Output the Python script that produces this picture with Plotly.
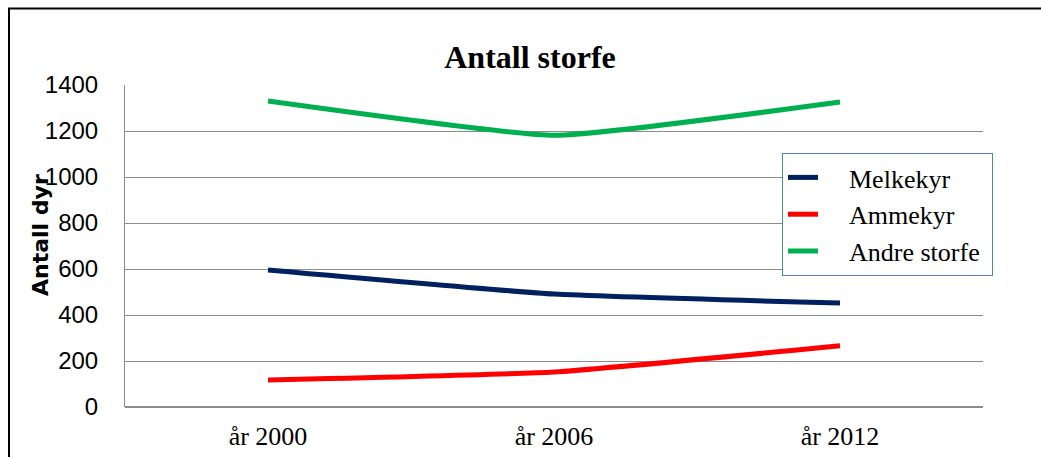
import plotly.graph_objects as go

categories = ["år 2000", "år 2006", "år 2012"]
melkekyr = [596, 491, 452]
ammekyr = [117, 152, 266]
andre_storfe = [1330, 1181, 1326]
series_names = ["Melkekyr", "Ammekyr", "Andre storfe"]
colors = ["#002060", "#FF0000", "#00B050"]

W, H = 1041, 457
L, R, T, B = 125, 58, 85, 50
pw, ph = W - L - R, H - T - B

fig = go.Figure()
for name, vals, col in zip(series_names, [melkekyr, ammekyr, andre_storfe], colors):
    fig.add_trace(go.Scatter(
        x=categories, y=vals, name="\u00a0\u00a0\u00a0\u00a0" + name + "\u00a0", mode="lines",
        line=dict(color=col, width=5, shape="spline", smoothing=0.4),
    ))

def px_x(p):
    return (p - L) / pw

def px_y(p):
    return (H - B - p) / ph

fig.add_shape(type="rect", xref="paper", yref="paper",
              x0=px_x(9), x1=px_x(1060), y0=px_y(470), y1=px_y(8.5),
              line=dict(color="black", width=2), fillcolor="rgba(0,0,0,0)")

fig.add_annotation(text="<b>Antall dyr</b>", xref="paper", yref="paper",
                   x=px_x(40), y=px_y(235), xanchor="center", yanchor="middle",
                   textangle=-90, showarrow=False,
                   font=dict(family="DejaVu Sans", size=22, color="black"))

fig.update_layout(
    width=W, height=H,
    margin=dict(l=L, r=R, t=T, b=B, pad=0),
    paper_bgcolor="white", plot_bgcolor="white",
    title=dict(text="<b>Antall storfe</b>", x=530 / W, xanchor="center",
               y=1 - 57 / H, yanchor="middle",
               font=dict(family="Liberation Serif", size=32, color="black")),
    showlegend=True,
    legend=dict(x=px_x(782), y=px_y(153), xanchor="left", yanchor="top",
                bgcolor="white", bordercolor="#4F81BD", borderwidth=1,
                font=dict(family="Liberation Serif", size=26, color="black"),
                tracegroupgap=0),
    xaxis=dict(showgrid=False, showline=False, ticks="", zeroline=False,
               ticklabelstandoff=11, automargin=False,
               tickfont=dict(family="Liberation Serif", size=26, color="black"),
               range=[-0.5, 2.5], fixedrange=True),
    yaxis=dict(range=[0, 1400], dtick=200, showgrid=True, gridcolor="#8C8C8C",
               gridwidth=1, showline=True, linecolor="#8C8C8C", linewidth=1,
               zeroline=True, zerolinecolor="#8C8C8C", zerolinewidth=2,
               ticks="", ticklabelstandoff=21, fixedrange=True, automargin=False,
               tickfont=dict(family="Liberation Sans", size=24, color="black")),
)

fig.write_html("out.html", config={"displayModeBar": False},
               post_script="document.body.style.margin='0';document.body.style.padding='0';")
